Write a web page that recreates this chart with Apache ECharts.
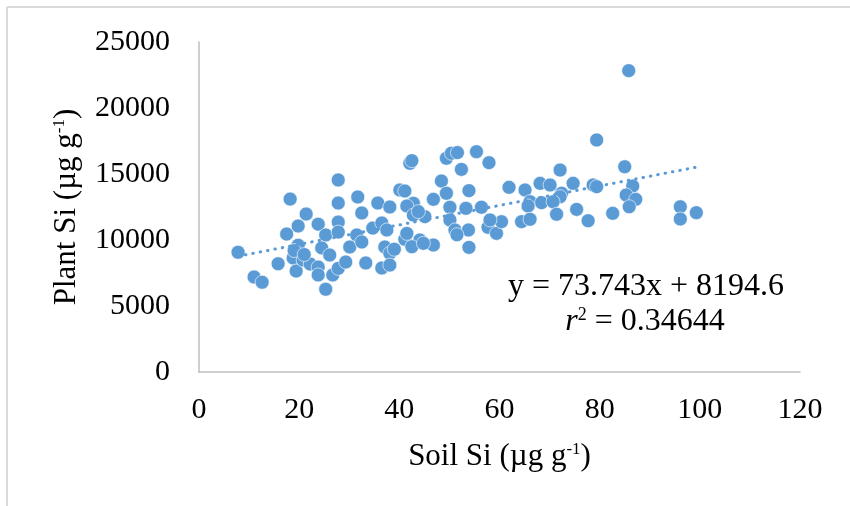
<!DOCTYPE html>
<html>
<head>
<meta charset="utf-8">
<script src="https://cdn.jsdelivr.net/npm/echarts@6/dist/echarts.min.js"></script>
<style>html,body{margin:0;padding:0;background:#fff}#c{width:850px;height:506px}</style>
</head>
<body>
<div id="c"></div>
<script>
// Soil Si (x) and Plant Si (y), µg g-1
var soilSi = [7.8,11.0,12.6,15.8,18.2,17.5,19.8,21.4,18.8,19.8,19.4,20.8,22.2,23.8,25.3,24.5,26.1,23.8,23.8,25.3,26.7,27.8,27.8,27.8,27.8,27.8,29.3,30.1,31.5,32.5,31.7,32.5,33.3,35.7,38.1,34.7,36.5,37.5,37.1,38.1,36.5,38.1,19.0,21.0,
  40.1,41.1,42.1,42.5,49.4,50.4,51.6,55.4,57.9,52.4,48.4,49.4,53.9,46.8,42.8,41.5,50.1,53.3,56.4,45.1,42.8,43.8,50.1,51.1,53.8,51.5,57.7,59.4,60.4,58.1,41.1,44.1,46.8,42.5,53.9,41.5,44.8,39.0,
  61.9,65.1,68.1,70.1,72.1,74.7,72.4,72.1,78.7,66.1,68.4,70.7,65.7,71.4,75.4,77.7,64.4,66.1,
  85.8,79.4,85.0,79.4,86.6,85.3,87.2,85.9,82.6,96.1,96.1,99.3];
var plantSi = [9070,7200,6800,8200,13100,10450,11060,11970,8640,9600,7650,8480,8180,11200,10380,9400,8860,7950,7350,6270,7350,7850,14550,12800,11360,10600,8330,9470,10380,9850,13260,12050,8260,12800,12500,10900,11290,10760,9470,9000,7880,8100,9200,8900,
  13790,13710,15810,16010,16190,16570,16620,16690,15860,15350,14470,13540,13740,13080,12780,12580,12480,12400,12480,11770,11890,12150,11520,10760,10760,10400,10960,10500,11390,11520,10050,10000,9620,9490,9440,10500,9750,9300,
  13990,13790,14290,14170,15300,14290,13540,13280,14170,12900,12830,12900,12580,11950,12320,11460,11390,11570,
  22830,17580,15550,14040,14090,13410,13080,12520,12020,12520,11590,12070];
var xTicks = [0,20,40,60,80,100,120];
var yTicks = [0,5000,10000,15000,20000,25000];
var slope = 73.743, intercept = 8194.6, r2 = 0.34644;

var pts = soilSi.map(function(x,i){return [x, plantSi[i]];});
var xmin = Math.min.apply(null, soilSi), xmax = Math.max.apply(null, soilSi);
var trend = [[xmin, slope*xmin+intercept],[xmax, slope*xmax+intercept]];

var FONT = '"Liberation Serif","Times New Roman",serif';
var chart = echarts.init(document.getElementById('c'), null, {renderer:'canvas'});
chart.setOption({
  animation:false,
  backgroundColor:'#fff',
  grid:{left:199,right:50,top:42,bottom:134,containLabel:false},
  xAxis:{type:'value',min:xTicks[0],max:xTicks[xTicks.length-1],interval:20,
    axisLine:{show:true,lineStyle:{color:'#bfbfbf',width:1.5}},axisTick:{show:false},splitLine:{show:false},
    axisLabel:{color:'#000',fontFamily:FONT,fontSize:30,margin:23,formatter:function(v){return String(v);}},
    name:'{a|Soil Si (µg g}{s|-1}{a|)}',nameLocation:'middle',nameGap:69,
    nameTextStyle:{rich:{a:{fontFamily:FONT,fontSize:31,color:'#000'},s:{fontFamily:FONT,fontSize:17,color:'#000',verticalAlign:'top',padding:[0,0,12,0]}}}},
  yAxis:{type:'value',min:yTicks[0],max:yTicks[yTicks.length-1],interval:5000,
    axisLine:{show:true,lineStyle:{color:'#bfbfbf',width:1.5}},axisTick:{show:false},splitLine:{show:false},
    axisLabel:{color:'#000',fontFamily:FONT,fontSize:30,margin:29,formatter:function(v){return String(v);}},
    name:'{a|Plant Si (µg g}{s|-1}{a|)}',nameLocation:'middle',nameGap:117,
    nameTextStyle:{rich:{a:{fontFamily:FONT,fontSize:31,color:'#000'},s:{fontFamily:FONT,fontSize:17,color:'#000',verticalAlign:'top',padding:[0,0,12,0]}}}},
  series:[
    {type:'scatter',data:pts,symbolSize:14,z:2,
     itemStyle:{color:'#5B9BD5',borderColor:'#fff',borderWidth:0.6,opacity:1}},
    {type:'line',data:trend,symbol:'none',z:3,silent:true,
     lineStyle:{color:'#5B9BD5',width:3,type:[0.5,7],cap:'round'}}
  ],
  graphic:[
    {type:'line',shape:{x1:7,y1:7,x2:850,y2:7},style:{stroke:'#d9d9d9',lineWidth:2}},
    {type:'line',shape:{x1:7,y1:7,x2:7,y2:506},style:{stroke:'#d9d9d9',lineWidth:2}},
    {type:'text',style:{x:646,y:287,textAlign:'center',textVerticalAlign:'middle',text:'y = '+slope+'x + '+intercept,font:'32px '+FONT,fill:'#000'}},
    {type:'text',style:{x:645,y:322,textAlign:'center',textVerticalAlign:'middle',text:'{i|r}{s|2}{a| = '+r2+'}',fill:'#000',
      rich:{i:{font:'italic 32px '+FONT},s:{font:'18px '+FONT,verticalAlign:'top',padding:[0,0,12,0]},a:{font:'32px '+FONT}}}}
  ]
});
</script>
</body>
</html>
